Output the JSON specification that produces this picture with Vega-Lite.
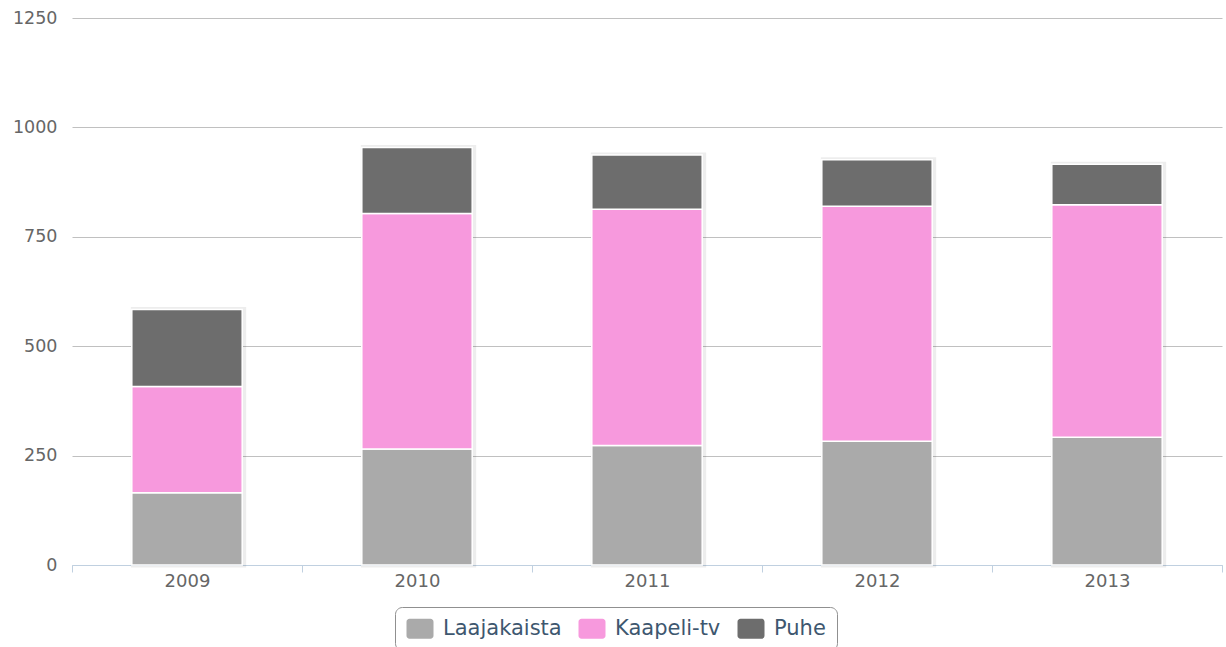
{
  "$schema": "https://vega.github.io/schema/vega-lite/v6.json",
  "autosize": {"type": "none"},
  "width": 1150,
  "height": 547,
  "padding": {"left": 72, "top": 18, "right": 4, "bottom": 82},
  "background": "white",
  "config": {
    "view": {"stroke": null},
    "font": "DejaVu Sans"
  },
  "data": {
    "values": [
      {"year": "2009", "type": "Laajakaista", "ord": 1, "value": 165},
      {"year": "2009", "type": "Kaapeli-tv", "ord": 2, "value": 243},
      {"year": "2009", "type": "Puhe", "ord": 3, "value": 176},
      {"year": "2010", "type": "Laajakaista", "ord": 1, "value": 265},
      {"year": "2010", "type": "Kaapeli-tv", "ord": 2, "value": 538},
      {"year": "2010", "type": "Puhe", "ord": 3, "value": 151},
      {"year": "2011", "type": "Laajakaista", "ord": 1, "value": 273},
      {"year": "2011", "type": "Kaapeli-tv", "ord": 2, "value": 540},
      {"year": "2011", "type": "Puhe", "ord": 3, "value": 124},
      {"year": "2012", "type": "Laajakaista", "ord": 1, "value": 283},
      {"year": "2012", "type": "Kaapeli-tv", "ord": 2, "value": 537},
      {"year": "2012", "type": "Puhe", "ord": 3, "value": 106},
      {"year": "2013", "type": "Laajakaista", "ord": 1, "value": 292},
      {"year": "2013", "type": "Kaapeli-tv", "ord": 2, "value": 531},
      {"year": "2013", "type": "Puhe", "ord": 3, "value": 93}
    ]
  },
  "encoding": {
    "x": {
      "field": "year",
      "type": "nominal",
      "title": null,
      "scale": {"paddingInner": 0, "paddingOuter": 0},
      "axis": {
        "labelAngle": 0,
        "labelFontSize": 18,
        "labelColor": "#666666",
        "labelPadding": 0,
        "domainColor": "#c0d0e0",
        "tickColor": "#c0d0e0",
        "tickBand": "extent",
        "tickSize": 7,
        "grid": false
      }
    }
  },
  "layer": [
    {
      "mark": {"type": "bar", "width": {"band": 0.48}, "fill": null, "stroke": "#000000", "strokeOpacity": 0.07, "strokeWidth": 5, "xOffset": 1.5},
      "encoding": {
        "y": {
          "aggregate": "sum",
          "field": "value",
          "type": "quantitative",
          "scale": {"domain": [0, 1250], "nice": false}
        }
      }
    },
    {
      "mark": {"type": "bar", "stroke": "white", "strokeWidth": 1.5, "width": {"band": 0.48}},
      "encoding": {
        "y": {
          "field": "value",
          "type": "quantitative",
          "stack": "zero",
          "title": null,
          "scale": {"domain": [0, 1250], "nice": false},
          "axis": {
            "values": [0, 250, 500, 750, 1000, 1250],
            "format": "d",
            "labelFontSize": 17.5,
            "labelColor": "#666666",
            "labelPadding": 15,
            "ticks": false,
            "domain": false,
            "gridColor": "#c0c0c0",
            "gridWidth": 1
          }
        },
        "color": {
          "field": "type",
          "type": "nominal",
          "sort": ["Laajakaista", "Kaapeli-tv", "Puhe"],
          "scale": {
            "domain": ["Laajakaista", "Kaapeli-tv", "Puhe"],
            "range": ["#aaaaaa", "#f799dd", "#6d6d6d"]
          },
          "legend": {
            "title": null,
            "orient": "none",
            "direction": "horizontal",
            "legendX": 323,
            "legendY": 589,
            "strokeColor": "#909090",
            "cornerRadius": 7,
            "padding": 11,
            "symbolType": "M-1,-1 H1.4 A0.3,0.3 0 0 1 1.7,-0.7 V0.7 A0.3,0.3 0 0 1 1.4,1 H-0.7 A0.3,0.3 0 0 1 -1,0.7 V-0.7 A0.3,0.3 0 0 1 -0.7,-1 Z",
            "symbolSize": 400,
            "symbolStrokeWidth": 0,
            "symbolOpacity": 1,
            "labelFontSize": 21,
            "labelColor": "#3e576f",
            "labelOffset": 16,
            "columnPadding": 16
          }
        },
        "order": {"field": "ord", "type": "quantitative"}
      }
    }
  ]
}
